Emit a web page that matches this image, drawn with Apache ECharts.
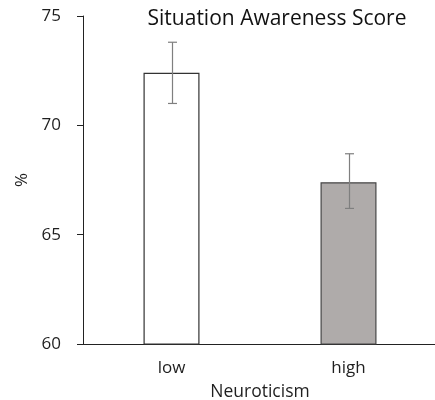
<!DOCTYPE html>
<html>
<head>
<meta charset="utf-8">
<script src="https://cdn.jsdelivr.net/npm/echarts@6/dist/echarts.min.js"></script>
<style>
  html, body { margin: 0; padding: 0; background: #fff; }
  #chart { width: 435px; height: 400px; }
</style>
</head>
<body>
<div id="chart"></div>
<script>
// Mean situation awareness score by neuroticism group, with error bars
const categories = ['low', 'high'];
const means = [72.4, 67.4];
const errLow = [71.0, 66.2];
const errHigh = [73.8, 68.7];
const barFills = ['#ffffff', '#afabaa'];
const barBorders = ['#333333', '#474747'];

const FONT = '"Open Sans", sans-serif';
const TEXT = '#1f1f1f';
const chart = echarts.init(document.getElementById('chart'));

chart.setOption({
  animation: false,
  title: {
    text: 'Situation Awareness Score',
    left: 272,
    textAlign: 'center',
    top: 4,
    textStyle: { fontFamily: FONT, fontSize: 21, fontWeight: 'normal', color: '#111' }
  },
  grid: { left: 83, top: 16, width: 354, height: 328, containLabel: false, outerBoundsMode: 'none' },
  xAxis: {
    type: 'category',
    data: categories,
    name: 'Neuroticism',
    nameLocation: 'middle',
    nameGap: 39,
    nameTextStyle: { fontFamily: FONT, fontSize: 17.5, color: TEXT },
    axisLine: { lineStyle: { color: '#222', width: 1 } },
    axisTick: { alignWithLabel: true, length: 4, lineStyle: { color: '#222' } },
    axisLabel: { margin: 16, fontFamily: FONT, fontSize: 17, color: TEXT }
  },
  yAxis: {
    type: 'value',
    min: 60, max: 75, interval: 5,
    name: '%',
    nameLocation: 'middle',
    nameGap: 50,
    nameRotate: 90,
    nameTextStyle: { fontFamily: FONT, fontSize: 17, color: TEXT },
    splitLine: { show: false },
    axisLine: { show: true, lineStyle: { color: '#222', width: 1 } },
    axisTick: { show: true, length: 6, lineStyle: { color: '#222' } },
    axisLabel: { margin: 22, fontFamily: FONT, fontSize: 17, color: TEXT }
  },
  series: [
    {
      type: 'bar',
      barWidth: 56,
      data: means.map((v, i) => ({
        value: v,
        itemStyle: { color: barFills[i], borderColor: barBorders[i], borderWidth: 1.2 }
      }))
    },
    {
      type: 'custom',
      z: 5,
      data: categories.map((c, i) => [i, errLow[i], errHigh[i]]),
      renderItem: function (params, api) {
        const lo = api.coord([api.value(0), api.value(1)]);
        const hi = api.coord([api.value(0), api.value(2)]);
        const x = Math.round(lo[0]) + 0.5;
        const cap = 4.5;
        const style = { stroke: '#7f7f7f', lineWidth: 1.2, fill: null };
        return {
          type: 'group',
          children: [
            { type: 'line', shape: { x1: x, y1: hi[1], x2: x, y2: lo[1] }, style },
            { type: 'line', shape: { x1: x - cap, y1: hi[1], x2: x + cap, y2: hi[1] }, style },
            { type: 'line', shape: { x1: x - cap, y1: lo[1], x2: x + cap, y2: lo[1] }, style }
          ]
        };
      }
    }
  ]
});
</script>
</body>
</html>
